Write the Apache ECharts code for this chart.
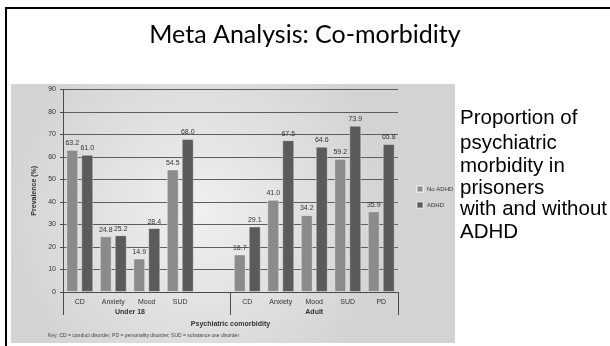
<!DOCTYPE html>
<html>
<head>
<meta charset="utf-8">
<title>Meta Analysis: Co-morbidity</title>
<script src="https://cdn.jsdelivr.net/npm/echarts@6/dist/echarts.min.js"></script>
<style>
  html, body { margin: 0; padding: 0; background: #ffffff; }
  #chart { width: 610px; height: 346px; }
</style>
</head>
<body>
<div id="chart"></div>
<script>
// Disorder categories; the empty slot separates the two age groups
const categories = ['CD', 'Anxiety', 'Mood', 'SUD', '', 'CD', 'Anxiety', 'Mood', 'SUD', 'PD'];
// Prevalence (%) among prisoners without ADHD
const noAdhd = [63.2, 24.8, 14.9, 54.5, null, 16.7, 41.0, 34.2, 59.2, 35.9];
// Prevalence (%) among prisoners with ADHD
const adhd = [61.0, 25.2, 28.4, 68.0, null, 29.1, 67.5, 64.6, 73.9, 65.8];
// Age groups, placed on a 0..10 scale matching the category slots
const groupNames = ['Under 18', 'Adult'];
const groupPositions = [2, 7.5];
const seriesNames = ['No ADHD', 'ADHD'];
const yTicks = { min: 0, max: 90, interval: 10 };

const titleText = 'Meta Analysis: Co-morbidity';
const sideLines = ['Proportion of', 'psychiatric', 'morbidity in', 'prisoners', 'with and without', 'ADHD'];
const keyText = 'Key: CD = conduct disorder; PD = personality disorder; SUD = substance use disorder';

const narrow = '"Liberation Sans Narrow", "Liberation Sans", sans-serif';
const textColor = '#333333';
const axisColor = '#4a4a4a';

const chart = echarts.init(document.getElementById('chart'), null, { renderer: 'canvas' });

const sideY = [118, 143, 166, 188, 209, 232];

const labelStyle = {
  show: true,
  position: 'top',
  distance: 3,
  fontFamily: narrow,
  fontSize: 7,
  color: textColor,
  formatter: p => (p.value == null ? '' : Number(p.value).toFixed(1))
};

chart.setOption({
  animation: false,
  backgroundColor: '#ffffff',
  graphic: [
    {
      type: 'polyline',
      z: 100,
      shape: { points: [[6, 346], [6, 8], [610, 8]] },
      style: { stroke: '#000000', lineWidth: 2, fill: null }
    },
    {
      type: 'text',
      left: 'center',
      top: 22,
      style: {
        text: titleText,
        fontFamily: 'Lato, "Open Sans", sans-serif',
        fontSize: 25,
        fill: '#000000'
      }
    },
    {
      type: 'rect',
      z: -10,
      shape: { x: 11, y: 84, width: 444, height: 259 },
      style: {
        fill: {
          type: 'radial', x: 0.42, y: 0.5, r: 0.75,
          colorStops: [
            { offset: 0, color: '#f0f0f0' },
            { offset: 1, color: '#d3d3d3' }
          ]
        }
      }
    },
    {
      type: 'text',
      x: 48, y: 336,
      style: {
        text: keyText,
        fontFamily: narrow,
        fontSize: 5,
        fill: '#444444',
        textVerticalAlign: 'middle'
      }
    }
  ].concat(sideLines.map((t, i) => ({
    type: 'text',
    x: 460,
    y: sideY[i],
    style: {
      text: t,
      fontFamily: '"Liberation Sans", Arial, sans-serif',
      fontSize: 20.5,
      fill: '#000000',
      textVerticalAlign: 'middle'
    }
  }))),
  legend: {
    orient: 'vertical',
    left: 411,
    top: 180,
    itemWidth: 6,
    itemHeight: 6,
    itemGap: 8,
    icon: 'rect',
    data: seriesNames,
    textStyle: { fontFamily: narrow, fontSize: 6, color: textColor, padding: [0, 0, 0, -1] }
  },
  grid: { left: 63, right: 212, top: 89.5, bottom: 54, containLabel: false },
  xAxis: [
    {
      type: 'category',
      data: categories,
      position: 'bottom',
      axisLine: { show: true, lineStyle: { color: axisColor, width: 1 } },
      axisTick: {
        show: true,
        alignWithLabel: false,
        length: 23,
        interval: (index) => index === 0 || index === 5,
        lineStyle: { color: axisColor, width: 1 }
      },
      axisLabel: { fontFamily: narrow, fontSize: 7, color: textColor, margin: 7, interval: 0 },
      splitLine: { show: false }
    },
    {
      type: 'value',
      position: 'bottom',
      min: 0,
      max: 10,
      interval: 0.5,
      offset: 0,
      axisLine: { show: false },
      axisTick: { show: false },
      splitLine: { show: false },
      axisLabel: {
        margin: 17,
        fontFamily: narrow,
        fontSize: 7,
        fontWeight: 'bold',
        color: textColor,
        showMinLabel: false,
        showMaxLabel: false,
        formatter: v => {
          const k = groupPositions.indexOf(v);
          return k >= 0 ? groupNames[k] : '';
        }
      },
      name: 'Psychiatric comorbidity',
      nameLocation: 'middle',
      nameGap: 29,
      nameTextStyle: { fontFamily: narrow, fontSize: 7, fontWeight: 'bold', color: textColor }
    }
  ],
  yAxis: {
    type: 'value',
    min: yTicks.min,
    max: yTicks.max,
    interval: yTicks.interval,
    name: 'Prevalence (%)',
    nameLocation: 'middle',
    nameGap: 22,
    nameRotate: 90,
    nameTextStyle: { fontFamily: narrow, fontSize: 7, fontWeight: 'bold', color: textColor },
    axisLine: { show: true, lineStyle: { color: axisColor, width: 1 } },
    axisTick: { show: true, length: 3, lineStyle: { color: axisColor } },
    axisLabel: { fontFamily: narrow, fontSize: 7, color: textColor, margin: 7 },
    splitLine: { show: true, lineStyle: { color: '#5e5e5e', width: 1 } }
  },
  series: [
    {
      name: seriesNames[0],
      type: 'bar',
      xAxisIndex: 0,
      data: noAdhd,
      barWidth: 12,
      barGap: '25%',
      itemStyle: { color: '#8b8b8b', borderColor: 'rgba(255,255,255,0.45)', borderWidth: 1 },
      label: labelStyle
    },
    {
      name: seriesNames[1],
      type: 'bar',
      xAxisIndex: 0,
      data: adhd,
      barWidth: 12,
      barGap: '25%',
      itemStyle: { color: '#5b5b5b', borderColor: 'rgba(255,255,255,0.35)', borderWidth: 1 },
      label: labelStyle
    }
  ]
});
</script>
</body>
</html>
